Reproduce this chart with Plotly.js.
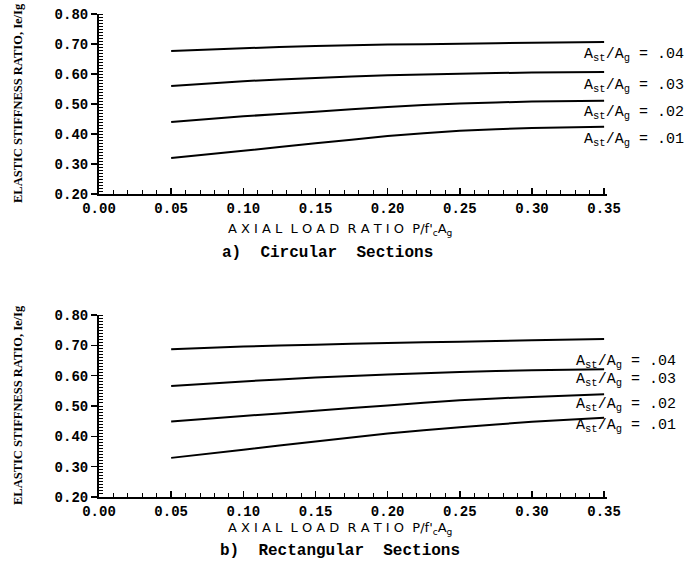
<!DOCTYPE html>
<html>
<head>
<meta charset="utf-8">
<script src="https://cdn.plot.ly/plotly-3.0.1.min.js"></script>
<style>html,body{margin:0;padding:0;background:#fff;}#chart{width:700px;height:564px;}</style>
</head>
<body>
<div id="chart"></div>
<script>
// Axial load ratio P/f'c Ag
const axialLoad = [0.05, 0.10, 0.15, 0.20, 0.25, 0.30, 0.35];

// a) Circular sections: Ie/Ig
const circ01 = [0.320, 0.344, 0.369, 0.393, 0.411, 0.420, 0.424];
const circ02 = [0.440, 0.459, 0.474, 0.490, 0.502, 0.508, 0.511];
const circ03 = [0.560, 0.576, 0.587, 0.596, 0.601, 0.605, 0.607];
const circ04 = [0.677, 0.686, 0.693, 0.698, 0.701, 0.704, 0.707];

// b) Rectangular sections: Ie/Ig
const rect01 = [0.329, 0.356, 0.383, 0.409, 0.430, 0.448, 0.461];
const rect02 = [0.449, 0.467, 0.484, 0.502, 0.519, 0.530, 0.539];
const rect03 = [0.566, 0.581, 0.594, 0.604, 0.612, 0.618, 0.621];
const rect04 = [0.687, 0.696, 0.702, 0.708, 0.712, 0.717, 0.721];

const ratioLabels = ['.01', '.02', '.03', '.04'];
const xTickVals = [0.00, 0.05, 0.10, 0.15, 0.20, 0.25, 0.30, 0.35];
const xTickText = ['0.00', '0.05', '0.10', '0.15', '0.20', '0.25', '0.30', '0.35'];
const yTickVals = [0.20, 0.30, 0.40, 0.50, 0.60, 0.70, 0.80];
const yTickText = ['0.20', '0.30', '0.40', '0.50', '0.60', '0.70', '0.80'];

const circSeries = [circ01, circ02, circ03, circ04];
const rectSeries = [rect01, rect02, rect03, rect04];

const lineStyle = {color: '#000', width: 2, shape: 'spline', smoothing: 0.5};
const traces = [];
circSeries.forEach((ys, i) => traces.push({x: axialLoad, y: ys, xaxis: 'x', yaxis: 'y', mode: 'lines', line: lineStyle, name: ratioLabels[i], showlegend: false, hoverinfo: 'skip'}));
rectSeries.forEach((ys, i) => traces.push({x: axialLoad, y: ys, xaxis: 'x2', yaxis: 'y2', mode: 'lines', line: lineStyle, name: ratioLabels[i], showlegend: false, hoverinfo: 'skip'}));

const tickFont = {family: 'Liberation Mono', size: 14, color: '#000', weight: 'bold'};
function xAxis(dom, anchor) {
  return {domain: dom, anchor: anchor, range: [0, 0.352], tickmode: 'array', tickvals: xTickVals, ticktext: xTickText,
    ticks: 'inside', ticklen: 6, tickwidth: 1.5, tickcolor: '#000', showline: true, linecolor: '#000', linewidth: 2,
    showgrid: false, zeroline: false, tickfont: tickFont,
    minor: {dtick: 0.01, ticks: 'inside', ticklen: 4, tickcolor: '#000', tickwidth: 1, showgrid: false}};
}
function yAxis(dom, anchor) {
  return {domain: dom, anchor: anchor, range: [0.2, 0.8], tickmode: 'array', tickvals: yTickVals, ticktext: yTickText,
    ticks: 'outside', ticklen: 6, tickwidth: 1.5, tickcolor: '#000', showline: true, linecolor: '#000', linewidth: 2,
    showgrid: false, zeroline: false, tickfont: tickFont,
    minor: {dtick: 0.01, ticks: 'inside', ticklen: 4, tickcolor: '#000', tickwidth: 1, showgrid: false}};
}

const W = 700, H = 564;
const xDom = [99 / W, 607 / W];
const yDomTop = [1 - 194 / H, 1 - 14 / H];
const yDomBot = [1 - 497 / H, 1 - 315 / H];

const annots = [];
const labelFont = {family: 'Liberation Mono', size: 15, color: '#000'};
const topLabelY = [0.38, 0.47, 0.56, 0.663];
const botLabelY = [0.433, 0.504, 0.586, 0.646];
ratioLabels.forEach((r, i) => {
  annots.push({xref: 'paper', yref: 'y', x: 582 / W, y: topLabelY[i], xanchor: 'left', yanchor: 'middle', showarrow: false,
    text: 'A<sub>st</sub>/A<sub>g</sub> = ' + r, font: labelFont});
  annots.push({xref: 'paper', yref: 'y2', x: 574 / W, y: botLabelY[i], xanchor: 'left', yanchor: 'middle', showarrow: false,
    text: 'A<sub>st</sub>/A<sub>g</sub> = ' + r, font: labelFont});
});
const ytitleFont = {family: 'Liberation Serif', size: 12.5, color: '#000', weight: 'bold'};
annots.push({xref: 'paper', yref: 'paper', x: 18 / W, y: 1 - 103 / H, textangle: -90, showarrow: false, xanchor: 'center', yanchor: 'middle',
  text: 'ELASTIC STIFFNESS RATIO, Ie/Ig', font: ytitleFont});
annots.push({xref: 'paper', yref: 'paper', x: 18 / W, y: 1 - 405 / H, textangle: -90, showarrow: false, xanchor: 'center', yanchor: 'middle',
  text: 'ELASTIC STIFFNESS RATIO, Ie/Ig', font: ytitleFont});
const xtitleFont = {family: 'DejaVu Sans', size: 13, color: '#000'};
annots.push({xref: 'paper', yref: 'paper', x: 340 / W, y: 1 - 229 / H, showarrow: false, xanchor: 'center', yanchor: 'middle',
  text: 'A X I A L  L O A D  R A T I O  P/f\'<sub>c</sub>A<sub>g</sub>', font: xtitleFont});
annots.push({xref: 'paper', yref: 'paper', x: 340 / W, y: 1 - 528 / H, showarrow: false, xanchor: 'center', yanchor: 'middle',
  text: 'A X I A L  L O A D  R A T I O  P/f\'<sub>c</sub>A<sub>g</sub>', font: xtitleFont});
const capFont = {family: 'Liberation Mono', size: 16, color: '#000', weight: 'bold'};
annots.push({xref: 'paper', yref: 'paper', x: 327 / W, y: 1 - 253 / H, showarrow: false, xanchor: 'center', yanchor: 'middle',
  text: 'a)  Circular  Sections', font: capFont});
annots.push({xref: 'paper', yref: 'paper', x: 340 / W, y: 1 - 551 / H, showarrow: false, xanchor: 'center', yanchor: 'middle',
  text: 'b)  Rectangular  Sections', font: capFont});

const layout = {
  width: W, height: H, margin: {l: 0, r: 0, t: 0, b: 0},
  paper_bgcolor: '#fff', plot_bgcolor: '#fff', showlegend: false,
  xaxis: xAxis(xDom, 'y'), yaxis: yAxis(yDomTop, 'x'),
  xaxis2: xAxis(xDom, 'y2'), yaxis2: yAxis(yDomBot, 'x2'),
  annotations: annots
};
Plotly.newPlot('chart', traces, layout, {staticPlot: true, displayModeBar: false});
</script>
</body>
</html>
